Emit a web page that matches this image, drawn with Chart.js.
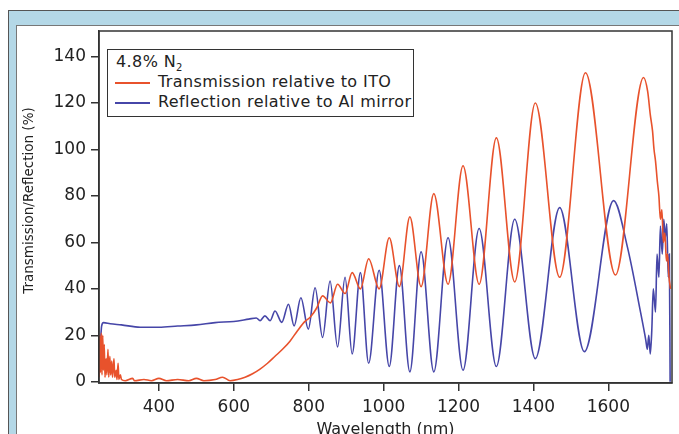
<!DOCTYPE html>
<html>
<head>
<meta charset="utf-8">
<script src="https://cdn.jsdelivr.net/npm/chart.js@4/dist/chart.umd.min.js"></script>
<style>
  html, body { margin: 0; padding: 0; background: #fff; }
  #wrap { position: relative; width: 679px; height: 434px; overflow: hidden; }
  #fondo { position: absolute; left: 8px; top: 10px; width: 700px; height: 450px;
           background: #b4d8e7; border-top: 1px solid #555; border-left: 1px solid #555; }
  #panel { position: absolute; left: 16px; top: 25px; width: 700px; height: 450px;
           background: #fff; border-top: 1px solid #777; border-left: 1px solid #777; }
  canvas { position: absolute; left: 0; top: 0; }
  #leyenda { position: absolute; left: 107px; top: 49px; width: 305px; height: 66px;
             border: 1.5px solid #333; background: #fff;
             font-family: "DejaVu Sans", sans-serif; font-size: 16px; letter-spacing: 0.4px; color: #222; }
  #leyenda div { position: absolute; left: 50px; white-space: nowrap; }
  #leyenda span.linea { position: absolute; left: -43px; top: 10px; width: 35px; height: 2px; }
  #leyenda sub { font-size: 10px; }
</style>
</head>
<body>
<div id="wrap">
  <div id="fondo"></div>
  <div id="panel"></div>
  <canvas id="grafico" width="679" height="434"></canvas>
  <div id="leyenda">
    <div style="top:2px; left:8px">4.8% N<sub>2</sub></div>
    <div style="top:22px"><span class="linea" style="background:#e8522c"></span>Transmission relative to ITO</div>
    <div style="top:42px"><span class="linea" style="background:#4646a8"></span>Reflection relative to Al mirror</div>
  </div>
</div>
<script>
// Transmisión relativa a ITO (nm, %)
const longitudTrans = [240, 242, 244, 246, 248, 250, 252, 254, 256, 259, 261, 264, 266, 269, 271, 274, 276, 280, 282, 286, 288, 291, 293, 297, 300,
  310, 330, 335, 360, 380, 400, 420, 450, 480, 500, 520, 550, 570, 590, 610, 630, 650, 670, 690, 710, 730, 750, 770, 790, 805,
  822, 837, 858, 877, 897, 916, 938, 960, 988, 1015, 1042, 1070, 1100, 1134, 1172, 1212, 1255, 1301, 1350, 1405, 1470, 1539, 1619, 1694,
  1705, 1712, 1718, 1722, 1726, 1731, 1735, 1739, 1743, 1747, 1751, 1755, 1758, 1762, 1766];
const valorTrans = [2, 20, 4, 21, 3, 20, 5, 16, 2, 10, 3, 14, 2, 11, 3, 9, 2, 10, 2, 5, 1, 8, 1, 3, 1,
  0.5, 1.5, 0.5, 1, 0.5, 1.5, 0.5, 1, 0.5, 1.5, 0.5, 1, 2, 0.5, 1, 2, 3.5, 5.5, 8, 11, 14, 17.5, 22, 26, 28,
  32, 37, 34, 42, 38, 47, 40, 53, 40, 62, 41, 71, 41, 81, 42, 93, 42, 105, 43, 120, 45, 133, 46, 131,
  125, 115, 108, 100, 95, 86, 80, 70, 74, 60, 64, 52, 55, 45, 40];

// Reflexión relativa al espejo de Al (nm, %)
const longitudRefl = [241, 244, 247, 252, 270, 300, 350, 400, 450, 500, 550, 600, 640, 660,
  670, 683, 697, 710, 728, 746, 761, 779, 799, 817, 837, 857, 877, 897, 916, 938, 960, 988, 1015, 1042, 1070, 1100,
  1134, 1172, 1212, 1255, 1301, 1350, 1405, 1470, 1536, 1614, 1651, 1686, 1700, 1704, 1708, 1712, 1716, 1720, 1726,
  1730, 1735, 1739, 1744, 1748, 1752, 1756, 1760, 1763, 1765];
const valorRefl = [8, 17, 24, 25.5, 25, 24.5, 23.5, 23.5, 24, 24.5, 25.5, 26, 27, 27.5,
  26.3, 28.4, 26.3, 30.5, 25.6, 33.4, 24.1, 36.2, 22.7, 40.5, 19.1, 43.4, 15, 45, 12, 47, 8, 48, 6.6, 50, 4.3, 56,
  4.3, 62, 5, 66, 6.6, 70, 10, 75, 13, 78, 58, 30, 18, 14, 20, 12, 22, 40, 30,
  55, 45, 67, 55, 70, 62, 68, 45, 55, 0];

const ticksX = [400, 600, 800, 1000, 1200, 1400, 1600];
const ticksY = [0, 20, 40, 60, 80, 100, 120, 140];

const aPuntos = (xs, ys) => xs.map((x, i) => ({ x: x, y: ys[i] }));

// Marco alrededor del área de trazado
const marco = {
  id: 'marco',
  afterDraw(chart) {
    const a = chart.chartArea;
    const ctx = chart.ctx;
    ctx.save();
    ctx.strokeStyle = '#333';
    ctx.lineWidth = 1.5;
    ctx.strokeRect(a.left, a.top, a.right - a.left, a.bottom - a.top);
    ctx.restore();
  }
};

const fuente = { family: '"DejaVu Sans", sans-serif', size: 17 };

new Chart(document.getElementById('grafico').getContext('2d'), {
  type: 'scatter',
  data: {
    datasets: [{
      label: 'Transmission relative to ITO',
      data: aPuntos(longitudTrans, valorTrans),
      borderColor: '#e8522c',
      borderWidth: 1.6,
      showLine: true,
      pointRadius: 0,
      cubicInterpolationMode: 'monotone'
    }, {
      label: 'Reflection relative to Al mirror',
      data: aPuntos(longitudRefl, valorRefl),
      borderColor: '#4646a8',
      borderWidth: 1.6,
      showLine: true,
      pointRadius: 0,
      cubicInterpolationMode: 'monotone'
    }]
  },
  options: {
    responsive: false,
    animation: false,
    layout: { padding: { left: 0, top: 31, right: 7, bottom: 0 } },
    plugins: { legend: { display: false }, tooltip: { enabled: false } },
    scales: {
      x: {
        type: 'linear', min: 240, max: 1770,
        afterFit: s => { s.height = 51; },
        afterBuildTicks: s => { s.ticks = ticksX.map(v => ({ value: v })); },
        border: { color: '#333', width: 1.5 },
        grid: { drawOnChartArea: false, tickLength: 8, color: '#333', lineWidth: 1.5 },
        ticks: { color: '#222', font: fuente, padding: 6, maxRotation: 0, callback: v => String(v) },
        title: { display: true, text: 'Wavelength (nm)', color: '#222', font: { family: '"DejaVu Sans", sans-serif', size: 16 }, padding: { top: 0, bottom: -5 } }
      },
      y: {
        min: -0.5, max: 151,
        afterFit: s => { s.width = 99; },
        afterBuildTicks: s => { s.ticks = ticksY.map(v => ({ value: v })); },
        border: { color: '#333', width: 1.5 },
        grid: { drawOnChartArea: false, tickLength: 8, color: '#333', lineWidth: 1.5 },
        ticks: { color: '#222', font: fuente, padding: 5, callback: v => String(v) },
        title: { display: true, text: '   Transmission/Reflection (%)', color: '#222', font: { family: '"DejaVu Sans", sans-serif', size: 13.5 }, padding: { top: 21, bottom: 0 } }
      }
    }
  },
  plugins: [marco]
});
</script>
</body>
</html>
